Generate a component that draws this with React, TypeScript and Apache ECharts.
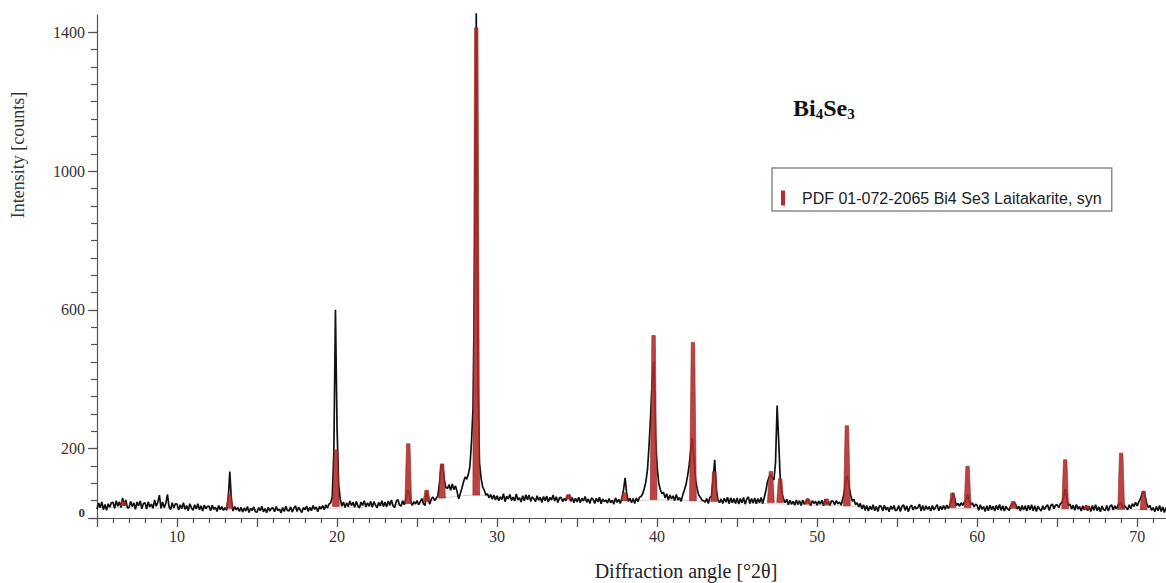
import React, { useEffect, useRef } from "react";
import * as echarts from "echarts";

// Measured diffraction pattern: row r holds the intensities at 2θ = (5 + r) + 0.0 … 0.9
const SCAN_START = 5;
const SCAN_STEP = 0.1;
const INTENSITY_ROWS: number[][] = [
  [26, 43, 30, 46, 24, 39, 22, 41, 31, 44], // 5
  [45, 28, 50, 34, 47, 30, 58, 36, 52, 29], // 6
  [30, 48, 33, 44, 25, 46, 35, 49, 27, 42], // 7
  [44, 26, 47, 32, 40, 28, 52, 34, 45, 66], // 8
  [28, 46, 30, 42, 68, 33, 24, 44, 29, 41], // 9
  [40, 23, 38, 27, 44, 25, 36, 21, 41, 30], // 10
  [22, 38, 26, 41, 24, 35, 20, 37, 27, 33], // 11
  [34, 21, 37, 25, 31, 19, 36, 24, 33, 22], // 12
  [30, 22, 55, 134, 48, 20, 33, 24, 30, 19], // 13
  [31, 17, 29, 20, 33, 16, 28, 22, 32, 18], // 14
  [17, 30, 21, 34, 18, 27, 15, 31, 20, 28], // 15
  [29, 18, 33, 21, 26, 15, 30, 19, 34, 22], // 16
  [20, 32, 17, 28, 35, 19, 31, 23, 16, 30], // 17
  [24, 34, 19, 31, 21, 36, 25, 32, 18, 33], // 18
  [26, 36, 24, 38, 29, 40, 44, 60, 190, 600], // 19
  [260, 95, 55, 34, 46, 30, 44, 33, 49, 36], // 20
  [45, 31, 48, 35, 29, 46, 36, 50, 32, 44], // 21
  [34, 48, 31, 47, 38, 29, 45, 35, 50, 33], // 22
  [46, 32, 49, 37, 52, 35, 30, 48, 53, 38], // 23
  [34, 50, 38, 54, 80, 75, 48, 36, 47, 40], // 24
  [50, 38, 47, 56, 41, 36, 78, 52, 40, 56], // 25
  [60, 50, 57, 64, 100, 150, 155, 110, 88, 85], // 26
  [96, 80, 98, 82, 93, 76, 55, 70, 86, 104], // 27
  [118, 112, 125, 148, 217, 320, 720, 1455, 400, 160], // 28
  [115, 90, 80, 66, 70, 58, 68, 54, 66, 52], // 29
  [64, 50, 61, 53, 70, 47, 63, 55, 68, 50], // 30
  [60, 49, 69, 52, 58, 46, 64, 50, 67, 53], // 31
  [66, 48, 61, 55, 47, 64, 51, 60, 45, 62], // 32
  [50, 63, 46, 59, 52, 66, 49, 61, 45, 58], // 33
  [60, 47, 56, 50, 63, 65, 48, 59, 44, 57], // 34
  [46, 60, 44, 57, 49, 62, 45, 55, 42, 58], // 35
  [54, 42, 57, 46, 60, 41, 55, 47, 52, 43], // 36
  [56, 44, 51, 40, 58, 45, 54, 42, 58, 80], // 37
  [116, 70, 48, 57, 44, 56, 42, 58, 47, 60], // 38
  [62, 70, 85, 105, 140, 210, 300, 400, 450, 230], // 39
  [150, 100, 82, 70, 74, 58, 70, 52, 66, 55], // 40
  [64, 50, 68, 52, 59, 48, 66, 80, 95, 120], // 41
  [150, 195, 231, 170, 110, 85, 66, 60, 52, 50], // 42
  [46, 56, 42, 60, 62, 110, 168, 80, 54, 44], // 43
  [55, 42, 57, 46, 60, 41, 58, 44, 56, 42], // 44
  [58, 40, 56, 44, 59, 40, 54, 61, 42, 56], // 45
  [43, 58, 41, 56, 44, 59, 42, 60, 80, 105], // 46
  [118, 125, 115, 110, 160, 324, 220, 105, 70, 55], // 47
  [44, 54, 38, 51, 40, 48, 37, 52, 39, 50], // 48
  [36, 52, 40, 47, 55, 45, 36, 50, 42, 48], // 49
  [37, 49, 40, 51, 35, 54, 40, 47, 36, 50], // 50
  [48, 38, 50, 41, 46, 37, 55, 75, 110, 122], // 51
  [90, 65, 48, 54, 38, 44, 32, 42, 26, 38], // 52
  [22, 36, 20, 34, 24, 38, 21, 33, 19, 35], // 53
  [34, 20, 37, 23, 31, 18, 35, 25, 36, 21], // 54
  [24, 36, 19, 33, 38, 22, 35, 18, 32, 37], // 55
  [23, 34, 26, 31, 40, 20, 36, 22, 35, 25], // 56
  [33, 20, 36, 23, 31, 38, 21, 34, 24, 36], // 57
  [25, 37, 28, 38, 50, 72, 55, 36, 42, 34], // 58
  [44, 36, 46, 50, 68, 52, 38, 44, 32, 40], // 59
  [36, 22, 38, 25, 33, 19, 35, 21, 37, 24], // 60
  [34, 20, 37, 24, 39, 22, 35, 20, 33, 26], // 61
  [22, 35, 38, 45, 40, 26, 34, 20, 36, 23], // 62
  [35, 20, 37, 23, 38, 21, 35, 19, 34, 26], // 63
  [20, 35, 24, 33, 38, 22, 36, 40, 27, 37], // 64
  [38, 30, 41, 45, 60, 84, 55, 36, 40, 26], // 65
  [37, 22, 39, 26, 33, 20, 35, 23, 36, 21], // 66
  [34, 19, 36, 22, 38, 21, 32, 18, 35, 24], // 67
  [22, 36, 20, 34, 38, 23, 35, 26, 37, 40], // 68
  [44, 28, 36, 30, 24, 38, 27, 41, 33, 45], // 69
  [35, 46, 55, 70, 77, 60, 42, 30, 36, 22], // 70
  [30, 18, 33, 21, 36, 19, 32, 16, 29, 34], // 71
];

// Fitted background line
const BG_ANGLE = [5, 10, 15, 19, 22, 25, 27, 28.7, 31, 35, 38, 40, 44, 48, 52, 56, 62, 68, 72];
const BG_COUNTS = [30, 28, 24, 27, 33, 44, 60, 66, 58, 52, 50, 52, 46, 40, 34, 28, 27, 25, 24];

// Reference pattern PDF 01-072-2065 (stick positions, top, foot on background)
const REF_ANGLE = [6.65, 13.29, 19.93, 24.45, 25.6, 26.56, 28.7, 34.47, 37.97, 39.78, 42.24, 43.57, 47.11, 47.69, 49.42, 50.6, 51.86, 58.46, 59.4, 62.25, 65.5, 66.86, 69.0, 70.4];
const REF_TOP = [48, 67, 196, 214, 80, 156, 1413, 68, 73, 526, 506, 134, 134, 113, 55, 55, 266, 72, 149, 48, 168, 35, 187, 77];
const REF_FOOT = [36, 28, 33, 42, 48, 58, 66, 55, 50, 53, 50, 48, 45, 45, 40, 38, 35, 30, 30, 28, 27, 25, 25, 24];

const REF_NAME = "PDF 01-072-2065 Bi4 Se3 Laitakarite, syn";

// Axis ticks / labels
const X_LABELS = [10, 20, 30, 40, 50, 60, 70];
const X_MAJOR_TICKS = [5, 10, 15, 20, 25, 30, 35, 40, 45, 50, 55, 60, 65, 70];
const X_MINOR_TICKS = Array.from({ length: 67 }, (_, i) => 5 + i);
const Y_LABELS = [0, 200, 600, 1000, 1400];
const Y_MINOR_TICKS = Array.from({ length: 29 }, (_, i) => i * 50);

const SERIF = "Liberation Serif";
const SANS = "Liberation Sans";

export default function App() {
  const ref = useRef<HTMLDivElement>(null);

  useEffect(() => {
    if (!ref.current) return;
    const chart = echarts.init(ref.current, undefined, { renderer: "svg" });

    const scan = INTENSITY_ROWS.flatMap((row, r) =>
      row.map((v, j) => [Number((SCAN_START + r + j * SCAN_STEP).toFixed(1)), v])
    );
    const bg = BG_ANGLE.map((a, i) => [a, BG_COUNTS[i]]);
    const sticks = REF_ANGLE.map((a, i) => [a, REF_TOP[i], REF_FOOT[i]]);

    const axisColor = "#555";
    const numStyle = { fontFamily: SERIF, fontSize: 16, color: "#333" };

    chart.setOption({
      animation: false,
      backgroundColor: "#fff",
      textStyle: { fontFamily: SERIF, fontSize: 16 },
      grid: { left: 97, right: 0, top: 15, bottom: 65, containLabel: false },
      xAxis: [
        {
          type: "value",
          min: 5,
          max: 71.8,
          position: "bottom",
          axisLine: { show: true, lineStyle: { color: axisColor, width: 1.2 } },
          axisTick: { show: true, customValues: X_MINOR_TICKS, length: 5, lineStyle: { color: axisColor, width: 1.2 } },
          axisLabel: { show: false },
          splitLine: { show: false },
        },
        {
          type: "value",
          min: 5,
          max: 71.8,
          position: "bottom",
          axisLine: { show: false },
          axisTick: { show: true, customValues: X_MAJOR_TICKS, length: 9, lineStyle: { color: axisColor, width: 1.2 } },
          axisLabel: {
            show: true,
            customValues: X_LABELS,
            margin: 10,
            fontFamily: SERIF,
            fontSize: 16,
            color: "#333",
            formatter: (v: number) => `{n|${v}}`,
            rich: { n: numStyle },
          },
          splitLine: { show: false },
        },
      ],
      yAxis: [
        {
          type: "value",
          min: 0,
          max: 1450,
          position: "left",
          axisLine: { show: true, lineStyle: { color: axisColor, width: 1.2 } },
          axisTick: { show: true, customValues: Y_MINOR_TICKS, length: 6, lineStyle: { color: axisColor, width: 1.2 } },
          axisLabel: { show: false },
          splitLine: { show: false },
        },
        {
          type: "value",
          min: 0,
          max: 1450,
          position: "left",
          axisLine: { show: false },
          axisTick: { show: true, customValues: Y_LABELS, length: 9, lineStyle: { color: axisColor, width: 1.2 } },
          axisLabel: {
            show: true,
            customValues: Y_LABELS,
            margin: 12,
            fontFamily: SERIF,
            fontSize: 16,
            color: "#333",
            formatter: (v: number) => (v === 0 ? "{z|0}" : `{n|${v}}`),
            rich: {
              n: numStyle,
              z: { fontFamily: SERIF, fontSize: 13, fontWeight: "bold", color: "#333", padding: [0, 0, 12, 0] },
            },
          },
          splitLine: { show: false },
        },
      ],
      legend: {
        show: true,
        left: 772,
        top: 168,
        orient: "horizontal",
        padding: [22, 10, 5, 9],
        borderColor: "#8a8a8a",
        borderWidth: 1.5,
        itemWidth: 4,
        itemHeight: 15,
        selectedMode: false,
        textStyle: { fontFamily: SANS, fontSize: 16, color: "#222", padding: [0, 0, 0, 12] },
        data: [{ name: REF_NAME, icon: "rect", itemStyle: { color: "#b0302c" } }],
      },
      series: [
        {
          name: "background",
          type: "line",
          data: bg,
          showSymbol: false,
          symbol: "none",
          smooth: 0.3,
          lineStyle: { color: "#d8cccc", width: 1 },
          z: 1,
          silent: true,
        },
        {
          name: "Bi4Se3 scan",
          type: "line",
          data: scan,
          showSymbol: false,
          symbol: "none",
          clip: false,
          lineStyle: { color: "#111", width: 1.7 },
          z: 2,
        },
        {
          name: REF_NAME,
          type: "custom",
          data: sticks,
          z: 4,
          itemStyle: { color: "#b0302c" },
          renderItem: (params: any, api: any) => {
            const x = api.value(0);
            const top = api.coord([x, api.value(1)]);
            const foot = api.coord([x, api.value(2)]);
            const hb = 3.4;
            const ht = 1.7;
            return {
              type: "polygon",
              shape: {
                points: [
                  [foot[0] - hb, foot[1]],
                  [top[0] - ht, top[1]],
                  [top[0] + ht, top[1]],
                  [foot[0] + hb, foot[1]],
                ],
              },
              style: { fill: "rgba(178,42,40,0.88)", stroke: "#8e2222", lineWidth: 0.6 },
            };
          },
        },
      ],
      graphic: [
        {
          type: "text",
          x: 18,
          y: 155,
          rotation: Math.PI / 2,
          style: {
            text: "Intensity [counts]",
            fontFamily: SERIF,
            fontSize: 18,
            fill: "#333",
            align: "center",
            verticalAlign: "middle",
          },
        },
        {
          type: "text",
          x: 686,
          y: 571,
          style: {
            text: "Diffraction angle [°2θ]",
            fontFamily: SERIF,
            fontSize: 20,
            fill: "#222",
            align: "center",
            verticalAlign: "middle",
          },
        },
        {
          type: "text",
          x: 793,
          y: 108,
          style: {
            text: "{b|Bi}{s|4}{b|Se}{s|3}",
            verticalAlign: "middle",
            rich: {
              b: { fontFamily: SERIF, fontSize: 24, fontWeight: "bold", fill: "#111", lineHeight: 26 },
              s: { fontFamily: SERIF, fontSize: 15, fontWeight: "bold", fill: "#111", lineHeight: 26, verticalAlign: "bottom", padding: [6, 0, 0, 0] },
            },
          },
        },
      ],
    });

    return () => chart.dispose();
  }, []);

  return (
    <div
      ref={ref}
      style={{ position: "absolute", left: 0, top: 0, width: 1166, height: 583, background: "#fff" }}
    />
  );
}
